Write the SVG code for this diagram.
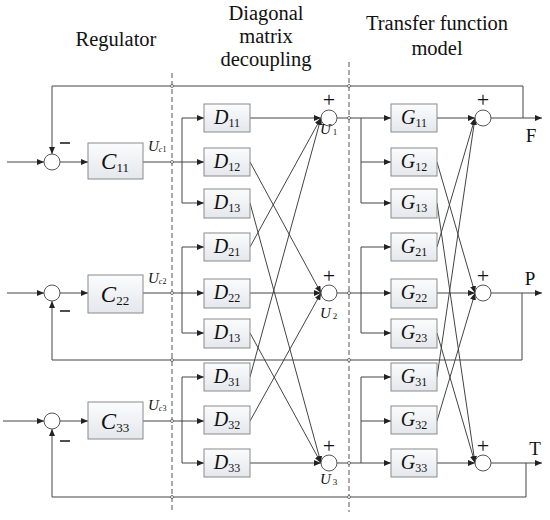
<svg xmlns="http://www.w3.org/2000/svg" width="550" height="520" viewBox="0 0 550 520">
<style>
.ln{stroke:#444;stroke-width:1;fill:none}
.ar{stroke:#444;stroke-width:1;fill:none;marker-end:url(#ah)}
.bx{fill:url(#gr);stroke:#8a8a8a;stroke-width:1}
.sm{fill:#fff;stroke:#555;stroke-width:1}
.dash{stroke:#555;stroke-width:1;stroke-dasharray:5,3;fill:none}
.hd{font-family:"Liberation Serif","Times New Roman",serif;font-size:20.5px;fill:#111;text-anchor:middle}
.ol{font-family:"Liberation Serif","Times New Roman",serif;font-size:19px;fill:#111;text-anchor:middle}
.lb{font-family:"Liberation Serif","Times New Roman",serif;font-size:20px;fill:#111;text-anchor:middle}
.cl{font-family:"Liberation Serif","Times New Roman",serif;font-size:23px;fill:#111;text-anchor:middle}
.sg{font-family:"Liberation Serif","Times New Roman",serif;font-size:15px;fill:#111}
.pm{font-family:"Liberation Serif","Times New Roman",serif;font-size:22px;fill:#111;text-anchor:middle}
.it{font-style:italic}
.mn{stroke:#222;stroke-width:1.6}
.hop{fill:#fff;stroke:#555;stroke-width:0.8}
</style>
<defs>
<linearGradient id="gr" x1="0" y1="0" x2="0" y2="1">
<stop offset="0" stop-color="#fbfcfd"/>
<stop offset="1" stop-color="#e4e7ec"/>
</linearGradient>
<marker id="ah" markerWidth="8" markerHeight="6" refX="7" refY="3" orient="auto" markerUnits="userSpaceOnUse">
<path d="M0,0 L7,3 L0,6 Z" fill="#222"/>
</marker>
</defs>

<!-- headers -->
<text class="hd" x="116" y="46">Regulator</text>
<text class="hd" x="266" y="20">Diagonal</text>
<text class="hd" x="266" y="43">matrix</text>
<text class="hd" x="266" y="66">decoupling</text>
<text class="hd" x="437" y="30">Transfer function</text>
<text class="hd" x="437" y="55">model</text>

<!-- dashed separators -->
<line class="dash" x1="172" y1="73" x2="172" y2="512"/>
<line class="dash" x1="349" y1="62" x2="349" y2="512"/>

<g id="connectors">
<line class="ar" x1="7" y1="162" x2="44" y2="162"/>
<line class="ar" x1="7" y1="293" x2="44" y2="293"/>
<line class="ar" x1="3" y1="421" x2="44" y2="421"/>
<line class="ar" x1="60" y1="162" x2="88" y2="162"/>
<line class="ar" x1="60" y1="293" x2="88" y2="293"/>
<line class="ar" x1="60" y1="421" x2="88" y2="421"/>
<line class="ln" x1="143" y1="162" x2="182" y2="162"/>
<line class="ln" x1="143" y1="293" x2="182" y2="293"/>
<line class="ln" x1="143" y1="421" x2="182" y2="421"/>
<line class="ln" x1="182" y1="118" x2="182" y2="203"/>
<line class="ln" x1="182" y1="247" x2="182" y2="333"/>
<line class="ln" x1="182" y1="377" x2="182" y2="463"/>
<line class="ar" x1="182" y1="118" x2="204" y2="118"/>
<line class="ar" x1="182" y1="162" x2="204" y2="162"/>
<line class="ar" x1="182" y1="203" x2="204" y2="203"/>
<line class="ar" x1="182" y1="247" x2="204" y2="247"/>
<line class="ar" x1="182" y1="293" x2="204" y2="293"/>
<line class="ar" x1="182" y1="333" x2="204" y2="333"/>
<line class="ar" x1="182" y1="377" x2="204" y2="377"/>
<line class="ar" x1="182" y1="421" x2="204" y2="421"/>
<line class="ar" x1="182" y1="463" x2="204" y2="463"/>
<line class="ar" x1="250" y1="118" x2="321" y2="118"/>
<line class="ar" x1="250" y1="162" x2="321" y2="293"/>
<line class="ar" x1="250" y1="203" x2="321" y2="463"/>
<line class="ar" x1="250" y1="247" x2="321" y2="118"/>
<line class="ar" x1="250" y1="293" x2="321" y2="293"/>
<line class="ar" x1="250" y1="333" x2="321" y2="463"/>
<line class="ar" x1="250" y1="377" x2="321" y2="118"/>
<line class="ar" x1="250" y1="421" x2="321" y2="293"/>
<line class="ar" x1="250" y1="463" x2="321" y2="463"/>
<line class="ln" x1="337" y1="118" x2="361" y2="118"/>
<line class="ln" x1="337" y1="293" x2="361" y2="293"/>
<line class="ln" x1="337" y1="463" x2="361" y2="463"/>
<line class="ln" x1="361" y1="118" x2="361" y2="203"/>
<line class="ln" x1="361" y1="247" x2="361" y2="333"/>
<line class="ln" x1="361" y1="377" x2="361" y2="463"/>
<line class="ar" x1="361" y1="118" x2="391" y2="118"/>
<line class="ar" x1="361" y1="162" x2="391" y2="162"/>
<line class="ar" x1="361" y1="203" x2="391" y2="203"/>
<line class="ar" x1="361" y1="247" x2="391" y2="247"/>
<line class="ar" x1="361" y1="293" x2="391" y2="293"/>
<line class="ar" x1="361" y1="333" x2="391" y2="333"/>
<line class="ar" x1="361" y1="377" x2="391" y2="377"/>
<line class="ar" x1="361" y1="421" x2="391" y2="421"/>
<line class="ar" x1="361" y1="463" x2="391" y2="463"/>
<line class="ar" x1="437" y1="118" x2="475" y2="118"/>
<line class="ar" x1="437" y1="162" x2="475" y2="293"/>
<line class="ar" x1="437" y1="203" x2="475" y2="463"/>
<line class="ar" x1="437" y1="247" x2="475" y2="118"/>
<line class="ar" x1="437" y1="293" x2="475" y2="293"/>
<line class="ar" x1="437" y1="333" x2="475" y2="463"/>
<line class="ar" x1="437" y1="377" x2="475" y2="118"/>
<line class="ar" x1="437" y1="421" x2="475" y2="293"/>
<line class="ar" x1="437" y1="463" x2="475" y2="463"/>
<line class="ar" x1="491" y1="118" x2="542" y2="118"/>
<line class="ar" x1="491" y1="293" x2="542" y2="293"/>
<line class="ar" x1="491" y1="463" x2="542" y2="463"/>
<polyline class="ar" points="523,118 523,86 52,86 52,154"/>
<polyline class="ar" points="522,293 522,360 52,360 52,301"/>
<polyline class="ar" points="526,463 526,497 52,497 52,429"/>
<circle class="hop" cx="172" cy="86" r="1.5"/>
<circle class="hop" cx="172" cy="162" r="1.5"/>
<circle class="hop" cx="172" cy="293" r="1.5"/>
<circle class="hop" cx="172" cy="360" r="1.5"/>
<circle class="hop" cx="172" cy="421" r="1.5"/>
<circle class="hop" cx="172" cy="497" r="1.5"/>
<circle class="hop" cx="349" cy="86" r="1.5"/>
<circle class="hop" cx="349" cy="118" r="1.5"/>
<circle class="hop" cx="349" cy="293" r="1.5"/>
<circle class="hop" cx="349" cy="360" r="1.5"/>
<circle class="hop" cx="349" cy="463" r="1.5"/>
<circle class="hop" cx="349" cy="497" r="1.5"/>
</g>

<!-- regulator sums -->
<g id="s1"><circle class="sm" cx="52" cy="162" r="8"/><line class="mn" x1="60" y1="143" x2="70" y2="143"/></g>
<g id="s2"><circle class="sm" cx="52" cy="293" r="8"/><line class="mn" x1="60" y1="311" x2="70" y2="311"/></g>
<g id="s3"><circle class="sm" cx="52" cy="421" r="8"/><line class="mn" x1="60" y1="441" x2="70" y2="441"/></g>

<!-- C blocks -->
<g id="C11"><rect class="bx" x="88" y="143" width="55" height="36"/><text class="cl" x="115" y="169"><tspan class="it">C</tspan><tspan font-size="13" dy="3">11</tspan></text></g>
<g id="C22"><rect class="bx" x="88" y="275" width="55" height="38"/><text class="cl" x="115" y="302"><tspan class="it">C</tspan><tspan font-size="13" dy="3">22</tspan></text></g>
<g id="C33"><rect class="bx" x="88" y="402" width="55" height="37"/><text class="cl" x="115" y="429"><tspan class="it">C</tspan><tspan font-size="13" dy="3">33</tspan></text></g>

<!-- Uc labels -->
<text class="sg" x="148" y="151" font-size="12"><tspan class="it">U</tspan><tspan class="it" font-size="8" dy="1">c</tspan><tspan font-size="8">1</tspan></text>
<text class="sg" x="148" y="283" font-size="12"><tspan class="it">U</tspan><tspan class="it" font-size="8" dy="1">c</tspan><tspan font-size="8">2</tspan></text>
<text class="sg" x="148" y="410" font-size="12"><tspan class="it">U</tspan><tspan class="it" font-size="8" dy="1">c</tspan><tspan font-size="8">3</tspan></text>

<!-- D blocks -->
<g id="D11"><rect class="bx" x="204" y="104" width="46" height="28"/><text class="lb" x="227" y="124"><tspan class="it">D</tspan><tspan font-size="12" dy="3">11</tspan></text></g>
<g id="D12"><rect class="bx" x="204" y="148" width="46" height="28"/><text class="lb" x="227" y="168"><tspan class="it">D</tspan><tspan font-size="12" dy="3">12</tspan></text></g>
<g id="D13"><rect class="bx" x="204" y="189" width="46" height="29"/><text class="lb" x="227" y="209"><tspan class="it">D</tspan><tspan font-size="12" dy="3">13</tspan></text></g>
<g id="D21"><rect class="bx" x="204" y="233" width="46" height="28"/><text class="lb" x="227" y="253"><tspan class="it">D</tspan><tspan font-size="12" dy="3">21</tspan></text></g>
<g id="D22"><rect class="bx" x="204" y="279" width="46" height="29"/><text class="lb" x="227" y="299"><tspan class="it">D</tspan><tspan font-size="12" dy="3">22</tspan></text></g>
<g id="D23"><rect class="bx" x="204" y="319" width="46" height="29"/><text class="lb" x="227" y="339"><tspan class="it">D</tspan><tspan font-size="12" dy="3">13</tspan></text></g>
<g id="D31"><rect class="bx" x="204" y="363" width="46" height="28"/><text class="lb" x="227" y="383"><tspan class="it">D</tspan><tspan font-size="12" dy="3">31</tspan></text></g>
<g id="D32"><rect class="bx" x="204" y="406" width="46" height="28"/><text class="lb" x="227" y="426"><tspan class="it">D</tspan><tspan font-size="12" dy="3">32</tspan></text></g>
<g id="D33"><rect class="bx" x="204" y="449" width="46" height="28"/><text class="lb" x="227" y="469"><tspan class="it">D</tspan><tspan font-size="12" dy="3">33</tspan></text></g>

<!-- U sums -->
<g id="U1"><circle class="sm" cx="329" cy="118" r="8"/><text class="pm" x="329" y="107">+</text><text class="sg" x="320" y="134" font-size="14"><tspan class="it">U</tspan><tspan font-size="9" dx="2" dy="1">1</tspan></text></g>
<g id="U2"><circle class="sm" cx="329" cy="293" r="8"/><text class="pm" x="329" y="283">+</text><text class="sg" x="320" y="318" font-size="14"><tspan class="it">U</tspan><tspan font-size="9" dx="2" dy="1">2</tspan></text></g>
<g id="U3"><circle class="sm" cx="329" cy="463" r="8"/><text class="pm" x="329" y="453">+</text><text class="sg" x="320" y="484" font-size="14"><tspan class="it">U</tspan><tspan font-size="9" dx="2" dy="1">3</tspan></text></g>

<!-- G blocks -->
<g id="G11"><rect class="bx" x="391" y="104" width="46" height="28"/><text class="lb" x="414" y="124"><tspan class="it">G</tspan><tspan font-size="12" dy="3">11</tspan></text></g>
<g id="G12"><rect class="bx" x="391" y="148" width="46" height="28"/><text class="lb" x="414" y="168"><tspan class="it">G</tspan><tspan font-size="12" dy="3">12</tspan></text></g>
<g id="G13"><rect class="bx" x="391" y="189" width="46" height="29"/><text class="lb" x="414" y="209"><tspan class="it">G</tspan><tspan font-size="12" dy="3">13</tspan></text></g>
<g id="G21"><rect class="bx" x="391" y="233" width="46" height="28"/><text class="lb" x="414" y="253"><tspan class="it">G</tspan><tspan font-size="12" dy="3">21</tspan></text></g>
<g id="G22"><rect class="bx" x="391" y="279" width="46" height="29"/><text class="lb" x="414" y="299"><tspan class="it">G</tspan><tspan font-size="12" dy="3">22</tspan></text></g>
<g id="G23"><rect class="bx" x="391" y="319" width="46" height="29"/><text class="lb" x="414" y="339"><tspan class="it">G</tspan><tspan font-size="12" dy="3">23</tspan></text></g>
<g id="G31"><rect class="bx" x="391" y="363" width="46" height="28"/><text class="lb" x="414" y="383"><tspan class="it">G</tspan><tspan font-size="12" dy="3">31</tspan></text></g>
<g id="G32"><rect class="bx" x="391" y="406" width="46" height="28"/><text class="lb" x="414" y="426"><tspan class="it">G</tspan><tspan font-size="12" dy="3">32</tspan></text></g>
<g id="G33"><rect class="bx" x="391" y="449" width="46" height="28"/><text class="lb" x="414" y="469"><tspan class="it">G</tspan><tspan font-size="12" dy="3">33</tspan></text></g>

<!-- output sums -->
<g id="Y1"><circle class="sm" cx="483" cy="118" r="8"/><text class="pm" x="483" y="107">+</text></g>
<g id="Y2"><circle class="sm" cx="483" cy="293" r="8"/><text class="pm" x="483" y="283">+</text></g>
<g id="Y3"><circle class="sm" cx="483" cy="463" r="8"/><text class="pm" x="483" y="453">+</text></g>

<!-- output labels -->
<text class="ol" x="531" y="142">F</text>
<text class="ol" x="530" y="285">P</text>
<text class="ol" x="535" y="455">T</text>
</svg>
